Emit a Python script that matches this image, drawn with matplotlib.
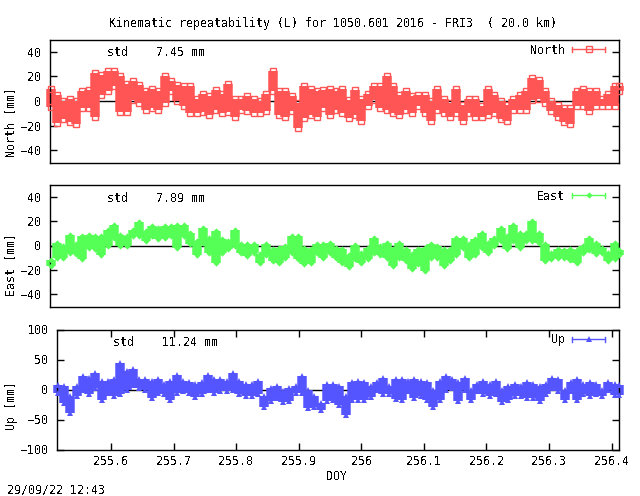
"""Kinematic repeatability plot in the look of a gnuplot PNG terminal."""

import matplotlib

matplotlib.use("Agg")
import matplotlib.pyplot as plt
from matplotlib.transforms import Affine2D

# ── data: upper and lower edge of the point cloud per DOY slot, in mm ───────
DOY = [
    255.515, 255.525, 255.535, 255.545, 255.555, 255.565, 255.575, 255.585, 255.595, 255.605,
    255.615, 255.625, 255.635, 255.645, 255.655, 255.665, 255.675, 255.685, 255.695, 255.705,
    255.715, 255.725, 255.735, 255.745, 255.755, 255.765, 255.775, 255.785, 255.795, 255.805,
    255.815, 255.825, 255.835, 255.845, 255.855, 255.865, 255.875, 255.885, 255.895, 255.905,
    255.915, 255.925, 255.935, 255.945, 255.955, 255.965, 255.975, 255.985, 255.995, 256.005,
    256.015, 256.025, 256.035, 256.045, 256.055, 256.065, 256.075, 256.085, 256.095, 256.105,
    256.115, 256.125, 256.135, 256.145, 256.155, 256.165, 256.175, 256.185, 256.195, 256.205,
    256.215, 256.225, 256.235, 256.245, 256.255, 256.265, 256.275, 256.285, 256.295, 256.305,
    256.315, 256.325, 256.335, 256.345, 256.355, 256.365, 256.375, 256.385, 256.395, 256.405,
    256.412,
]

NORTH_HI = [
    10, 5, 0, 2, 0, 8, 9, 23, 21, 24, 24, 20, 14, 16, 13, 8, 10, 8, 20, 16,
    13, 12, 12, 2, 6, 4, 9, 6, 14, 2, 2, 4, 2, 0, 6, 24, 8, 8, 4, -2,
    12, 10, 8, 9, 10, 8, 10, 1, 9, 2, 6, 12, 12, 20, 12, 5, 8, 4, 5, 5,
    0, 10, 2, -2, 10, -3, 2, 2, -4, 10, 5, 0, -3, 2, 5, 8, 19, 17, 8, 0,
    -3, -6, -6, 8, 10, 8, 8, 2, 6, 12, 12,
]
NORTH_LO = [
    -5, -18, -15, -17, -19, -6, -6, -13, 5, 8, 12, -9, -9, 1, -2, -7, -6, -7, -2, 8,
    0, -4, -10, -10, -9, -11, -7, -10, -9, -13, -7, -8, -10, -10, -8, 8, -11, -13, -8, -22,
    -14, -11, -13, -6, -11, -7, -10, -14, -11, -16, -4, 1, -6, -7, -10, -11, -7, -10, -4, -10,
    -16, -7, -10, -13, -10, -16, -10, -13, -13, -11, -10, -15, -16, -7, -7, -7, 1, 2, -2, -8,
    -13, -17, -19, -4, -4, -8, -4, -4, -4, -4, 8,
]
EAST_HI = [
    -12, 2, 0, 9, 1.5, 8, 9, 8, 8, 13, 17, 9, 8, 13, 19, 12, 16, 14, 16, 16,
    17, 17, 10, 4, 14, 6, 12, 5, 4, 13, 1, 1.5, 1.5, -7, 1, -3, -2, 0, 8, 8,
    -2, -3, 1.5, 1, 2, -2, -3, -8, 0.5, -6, -2, 6, 0, 2, -3, 2, -3, -7, -3, -2,
    1.5, 0, -3, -3, 6, 6, 1, 5, 10, 2, 6, 14, 8, 17, 10, 10, 20, 10, 1, -6,
    -3, -4, -3, -4, 0, 6, 2, -2, -6, 2, -4,
]
EAST_LO = [
    -17, -10, -10, -6, -7, -11, -2, -3, -8, 0, 6, 0, 0, 8, 8, 4, 8, 5, 6, 8,
    -2, 8, 1, -8, 2, -6, -14, -6, -3, 0, -6, -9, -6, -14, -8, -13, -14, -10, -6, -11,
    -15, -14, -6, -10, -6, -10, -14, -18, -11, -14, -11, -6, -8, -10, -17, -10, -13, -19, -15, -21,
    -10, -10, -17, -13, -8, -2, -10, -8, -2, -6, 0, 4, -3, 4, -2, 4, 4, 2, -13, -11,
    -10, -10, -12, -14, -6, -4, -7, -6, -13, -11, -8,
]
UP_HI = [
    7, 6, -11, 6, 22, 20, 28, 14, 14, 17, 45, 31, 35, 17, 17, 14, 17, 9, 14, 25,
    14, 12, 9, 12, 24, 18, 18, 14, 27, 14, 9, 9, 14, -11, 3, 6, -2, 3, 6, 23,
    0, -11, -22, 9, 9, 6, -11, 12, 14, 12, 6, 12, 20, 6, 17, 17, 14, 17, 14, 12,
    0, 14, 23, 18, 12, 20, 0, 9, 14, 9, 14, 0, 6, 9, 6, 12, 9, 6, 9, 20,
    17, 0, 12, 18, 9, 12, 10, 0, 12, 9, 7,
]
UP_LO = [
    -5, -22, -39, -11, 0, -8, 3, -17, -5, -11, -8, 0, 8, 3, 0, -14, -5, -8, -17, -5,
    -3, -5, -13, -8, 0, -5, -3, -3, 0, -8, -11, -11, -8, -29, -19, -14, -20, -19, -5, -5,
    -30, -29, -34, -19, -17, -25, -43, -18, -18, -18, -13, 0, -8, -8, -15, -17, -3, -14, -11, -17,
    -29, -17, 0, 3, -19, 0, -17, -3, -8, -11, -8, -20, -17, -11, -11, -14, -14, -19, -8, 3,
    -3, -17, -3, -17, -8, -11, -8, -11, 0, -9, -9,
]

STD_TEXTS = ["std    7.45 mm", "std    7.89 mm", "std    11.24 mm"]
X_TICKS = [255.6, 255.7, 255.8, 255.9, 256.0, 256.1, 256.2, 256.3, 256.4]
X_TICK_LABELS = ["255.6", "255.7", "255.8", "255.9", "256", "256.1", "256.2", "256.3", "256.4"]

# ── colours and page layout (pixels, y counted from the top) ────────────────
RED = "#ff5555"
GREEN = "#55ff55"
BLUE = "#5555ff"
WIDTH, HEIGHT = 640, 496
SLOT_PT = 9.5 * 72 / 100  # overlap neighbouring slots so the cloud stays solid

plt.rcParams["font.family"] = "DejaVu Sans Mono"
plt.rcParams["font.size"] = 8.33
plt.rcParams["text.antialiased"] = False
plt.rcParams["axes.linewidth"] = 1.0

fig = plt.figure(figsize=(WIDTH / 100, HEIGHT / 100), dpi=100, facecolor="white")
px = Affine2D().scale(1, -1).translate(0, HEIGHT)  # page pixels, origin top left


def add_text(x, y, text, **kwargs):
    fig.text(x, y, text, transform=px, va="center", **kwargs)


def add_panel(box, hi, lo, color, marker, msize, ylim, yticks, ylabel, std, legend):
    left, top, right, bottom = box
    ax = fig.add_axes([left / WIDTH, 1 - bottom / HEIGHT, (right - left) / WIDTH, (bottom - top) / HEIGHT])
    ax.set_xlim(255.513, 256.411)
    ax.set_ylim(*ylim)
    ax.axhline(0, color="black", lw=1.0, zorder=1)

    # the cloud is solid in the reference, so fill each slot between its edges
    ax.vlines(DOY, lo, hi, color=color, lw=SLOT_PT, zorder=2, clip_on=False)
    filled = marker != "s"
    for edge in (hi, lo):
        ax.plot(DOY, edge, ls="none", marker=marker, ms=msize, mew=0 if filled else 1.0,
                mfc=color if filled else "none", mec=color, zorder=3, clip_on=False)

    ax.set_yticks(yticks)
    ax.tick_params(axis="y", direction="in", length=5, width=1, left=True, right=True, pad=6)
    ax.tick_params(axis="x", direction="in", length=5, width=1, bottom=True, top=True)
    ax.set_xticks([])

    # gnuplot leaves the rotated label below the middle of the panel
    add_text(11, ylabel[1], ylabel[0], rotation=90, ha="center")
    add_text(std[0], std[1], std[2], ha="left")

    # legend key in gnuplot style: label, line with end caps, one marker
    label, key_y = legend
    add_text(565, key_y + 1, label, ha="right")
    fig.add_artist(plt.Line2D([572, 605], [key_y, key_y], color=color, lw=1.0, transform=px))
    for cap in (572, 605):
        fig.add_artist(plt.Line2D([cap, cap], [key_y - 2.5, key_y + 2.5], color=color, lw=1.0, transform=px))
    fig.add_artist(plt.Line2D([588.5], [key_y], marker=marker, ms=msize, mew=0 if filled else 1.0,
                              mfc=color if filled else "none", mec=color, transform=px))
    return ax


add_panel((49.5, 39.5, 618.5, 162.5), NORTH_HI, NORTH_LO, RED, "s", 4.0, (-50, 50),
          [-40, -20, 0, 20, 40], ("North [mm]", 122), (107, 52, STD_TEXTS[0]), ("North", 49))
add_panel((49.5, 184.5, 618.5, 306.5), EAST_HI, EAST_LO, GREEN, "D", 3.2, (-50, 50),
          [-40, -20, 0, 20, 40], ("East [mm]", 265), (107, 198, STD_TEXTS[1]), ("East", 195))
ax_up = add_panel((56.5, 329.5, 618.5, 449.5), UP_HI, UP_LO, BLUE, "^", 5.0, (-100, 100),
                  [-100, -50, 0, 50, 100], ("Up [mm]", 405), (113, 342, STD_TEXTS[2]), ("Up", 339))

ax_up.set_xticks(X_TICKS)
ax_up.set_xticklabels(X_TICK_LABELS)
ax_up.tick_params(axis="x", pad=4)

add_text(333, 24, "Kinematic repeatability (L) for 1050.601 2016 - FRI3  ( 20.0 km)", ha="center")
add_text(337, 476, "DOY", ha="center")
add_text(7, 490, "29/09/22 12:43", ha="left")

fig.savefig("out.png", dpi=100)
